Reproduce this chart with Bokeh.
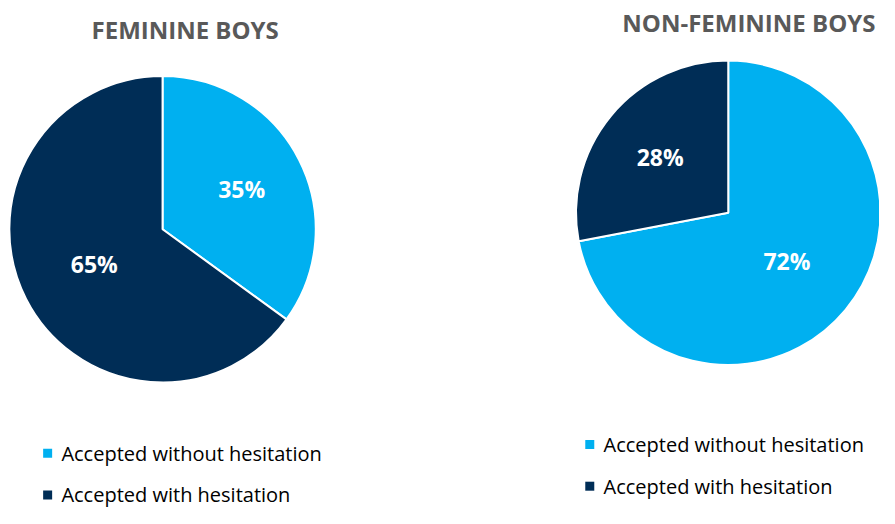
import math
from bokeh.plotting import figure
from bokeh.models import Range1d, ColumnDataSource
from bokeh.core.properties import value
from bokeh.embed import file_html
from bokeh.resources import INLINE

categories = ["Accepted without hesitation", "Accepted with hesitation"]
feminine = [35, 65]
non_feminine = [72, 28]
titles = ["FEMININE BOYS", "NON-FEMININE BOYS"]
colors = ["#00B0F0", "#002D56"]

W, H = 879, 508
RW, RH = 895, 524
FONT = "Open Sans"

p = figure(width=W, height=H, output_backend="svg", toolbar_location=None,
           x_range=Range1d(0, RW), y_range=Range1d(0, RH),
           min_border=0, outline_line_color=None, background_fill_color="white")
p.axis.visible = False
p.grid.visible = False


def sy(y):
    return RH - y


def draw_pie(cx, cy, r, vals):
    total = sum(vals)
    cum = 0
    starts, ends, lx, ly, labels = [], [], [], [], []
    for v in vals:
        a0 = cum / total * 360
        a1 = (cum + v) / total * 360
        starts.append(math.radians(90 - a1))
        ends.append(math.radians(90 - a0))
        mid = math.radians((a0 + a1) / 2)
        frac = 0.5 if v > 50 else 0.58
        lx.append(cx + r * frac * math.sin(mid))
        ly.append(sy(cy) + r * frac * math.cos(mid))
        labels.append(f"{v}%")
        cum += v
    src = ColumnDataSource(dict(x=[cx] * len(vals), y=[sy(cy)] * len(vals),
                                s=starts, e=ends, c=colors[:len(vals)]))
    p.wedge(x="x", y="y", radius=r, radius_units="data", start_angle="s", end_angle="e",
            fill_color="c", line_color="white", line_width=2, source=src)
    p.text(x=lx, y=ly, text=labels, text_color="white", text_font=value(FONT),
           text_font_style="bold", text_font_size="23px", text_align="center",
           text_baseline="middle")


draw_pie(165, 236, 156, feminine)
draw_pie(741, 219, 155, non_feminine)

p.text(x=[188], y=[sy(30)], text=[titles[0]], text_color="#595959", text_font=value(FONT),
       text_font_style="bold", text_font_size="24px", text_align="center", text_baseline="middle")
p.text(x=[762], y=[sy(23)], text=[titles[1]], text_color="#595959", text_font=value(FONT),
       text_font_style="bold", text_font_size="24px", text_align="center", text_baseline="middle")


def legend(x0, ys):
    p.scatter(x=[x0] * len(ys), y=[sy(y) for y in ys], marker="square", size=9,
              fill_color=colors, line_color=None)
    p.text(x=[x0 + 14] * len(ys), y=[sy(y) for y in ys], text=categories, text_color="#000000",
           text_font=value(FONT), text_font_size="20px", text_align="left", text_baseline="middle")


legend(48, [467, 510])
legend(600, [458, 501])

open("out.html", "w").write(file_html(p, INLINE))
